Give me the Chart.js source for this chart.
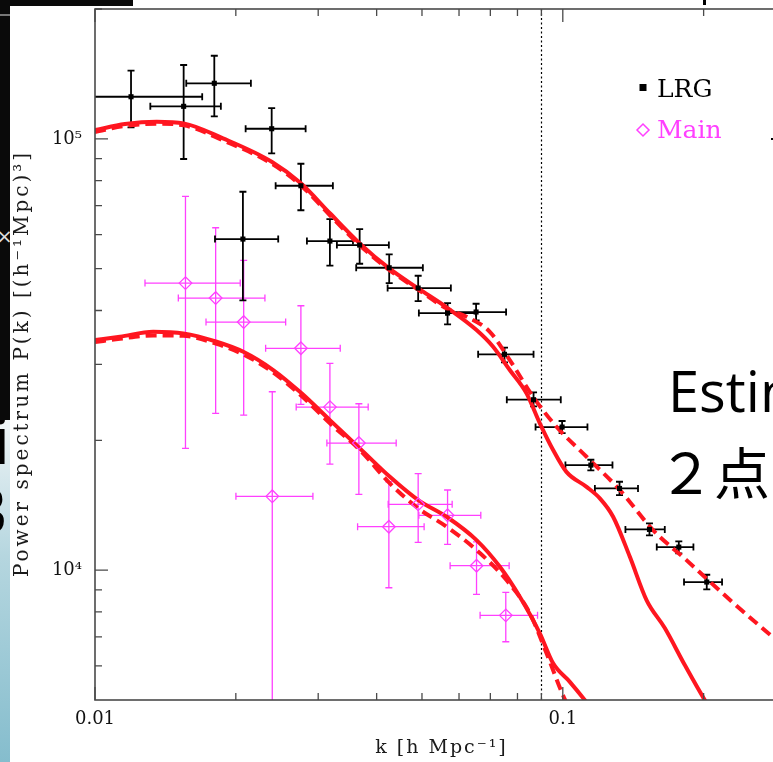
<!DOCTYPE html>
<html><head><meta charset="utf-8">
<script src="https://cdn.jsdelivr.net/npm/chart.js@4.4.1/dist/chart.umd.min.js"></script>
<style>
html,body{margin:0;padding:0;width:773px;height:762px;overflow:hidden;background:#fff;}
#wrap{position:relative;width:773px;height:762px;overflow:hidden;background:#fff;}
#c{position:absolute;left:0;top:0;width:820px;height:762px;}
.deco{position:absolute;}
</style></head><body>
<div id="wrap">
<canvas id="c" width="820" height="762"></canvas>
<div class="deco" style="left:0;top:0;width:133px;height:6px;background:#0a0a0a"></div>
<div class="deco" style="left:0;top:0;width:10px;height:420px;background:#0a0a0a"></div>
<div class="deco" style="left:0;top:14px;width:10px;height:2px;background:#777"></div>
<div class="deco" style="left:0;top:420px;width:10px;height:342px;background:linear-gradient(#eef4f6,#b5d6df 40%,#85bdcd)"></div>
<div class="deco" style="left:703px;top:0;width:3px;height:5px;background:#000"></div>
<div class="deco" style="left:0;top:228px;width:10px;height:24px;overflow:hidden"><span style="position:absolute;left:-4px;top:-4px;font:20px 'DejaVu Sans';color:#ddd">×</span></div>
<div class="deco" style="left:0;top:420px;width:11px;height:160px;overflow:hidden">
  <span style="position:absolute;left:-10px;top:-12px;font:bold 64px 'Open Sans';color:#000;line-height:64px">i</span>
  <span style="position:absolute;left:-34px;top:58px;font:64px 'Open Sans';color:#000;line-height:64px">B</span>
</div>
<div class="deco" style="left:668px;top:362px;font:56px 'Open Sans';line-height:56px;color:#000;white-space:nowrap">Estin</div>
<div class="deco" style="left:658px;top:442px;font:56px 'Noto Sans CJK JP';line-height:56px;color:#000;white-space:nowrap">２点</div>
</div>
<script>
// ---- data ----
const xTickValues = [0.01, 0.1];
const xTickLabels = ['0.01', '0.1'];
const yTickValues = [1e4, 1e5];
const yTickLabels = ['10\u2074', '10\u2075'];
const xMinorTicks = [0.02,0.03,0.04,0.05,0.06,0.07,0.08,0.09,0.2,0.3];
const yMinorTicks = [6000,7000,8000,9000,20000,30000,40000,50000,60000,70000,80000,90000,200000];

// LRG data points
const lrgK    = [0.01194,0.01547,0.01799,0.02386,0.02755,0.02071,0.03178,0.03679,0.04255,0.04907,0.05671,0.06526,0.07505,0.08659,0.09966,0.1148,0.1322,0.1532,0.1770,0.2031];
const lrgP    = [125200,118950,134520,105540,77840,58560,57940,56720,50250,45090,39460,39670,31650,24840,21470,17520,15470,12430,11310,9385];
const lrgKlo  = [0.0084,0.01313,0.01567,0.02099,0.02433,0.01805,0.02838,0.03289,0.03617,0.04222,0.04924,0.0563,0.06592,0.07591,0.08745,0.1013,0.1171,0.1361,0.1588,0.1816];
const lrgKhi  = [0.01695,0.01858,0.02154,0.02820,0.03225,0.02464,0.0356,0.04248,0.05022,0.05764,0.0653,0.07564,0.08659,0.09901,0.1129,0.1277,0.1448,0.1652,0.1902,0.2190];
const lrgPlo  = [106300,89790,112750,92550,68300,42220,50800,51340,46290,42060,37140,37950,30320,23980,20790,17030,14930,12040,10940,9025];
const lrgPhi  = [143900,148300,155820,117850,87540,75390,65160,61780,53980,48150,41620,41460,32800,25840,22170,18030,16030,12840,11660,9757];

// Main data points
const mainK   = [0.01561,0.01811,0.02079,0.02755,0.03178,0.03665,0.02393,0.04248,0.04907,0.05671,0.06540,0.07553];
const mainP   = [46290,42740,37600,32690,23880,19710,14830,12610,14210,13400,10240,7856];
const mainKlo = [0.01279,0.01507,0.01727,0.02316,0.02692,0.03131,0.02001,0.03642,0.04234,0.04924,0.05743,0.06656];
const mainKhi = [0.02044,0.02308,0.02556,0.03344,0.03837,0.04404,0.02923,0.05053,0.05801,0.06679,0.07679,0.08831];
const mainPlo = [19160,23100,22890,24240,17620,14990,3000,9104,11600,11480,8788,6823];
const mainPhi = [73570,62210,52280,41020,30160,24310,25920,16030,16740,15340,11630,8882];

// model curves
const lrgSolidK = [0.0100,0.01159,0.01355,0.01547,0.01877,0.02386,0.02755,0.03178,0.03679,0.04255,0.04907,0.05671,0.06540,0.07096,0.07703,0.08364,0.08931,0.09535,0.1018,0.1124,0.1200,0.1281,0.1391,0.1510,0.1652,0.1823,0.2011,0.22];
const lrgSolidP = [104800,108200,109560,108620,100280,88510,78880,67210,57240,50090,45000,40530,36030,32960,29110,25700,21900,18990,16900,15600,14670,13300,10740,8525,7340,6026,5000,4300];
const lrgDashK  = [0.0100,0.01159,0.01355,0.01547,0.01877,0.02386,0.02755,0.03178,0.03679,0.04255,0.04907,0.05671,0.06226,0.06982,0.07703,0.08642,0.09694,0.1124,0.1324,0.1559,0.1838,0.2238,0.2810,0.3];
const lrgDashP  = [103700,107100,108400,107500,99200,87600,78000,66500,56700,49700,44700,40300,38700,35700,30700,25230,21500,18320,15340,12390,10550,8675,6998,6600];
const mainSolidK = [0.0100,0.01131,0.01332,0.01544,0.0182,0.02075,0.02404,0.02765,0.03178,0.03684,0.04269,0.04907,0.05644,0.0654,0.07336,0.08092,0.08931,0.09535,0.1035,0.1114,0.12];
const mainSolidP = [34160,34770,35700,35400,33850,32080,29110,25700,22280,19160,16460,14540,13300,11740,10180,8675,7137,6081,5509,5000,4500];
const mainDashK  = [0.0100,0.01131,0.01332,0.01544,0.0182,0.02075,0.02404,0.02765,0.03178,0.03684,0.04269,0.04907,0.05644,0.0654,0.07578,0.08503,0.09231,0.1001,0.1050];
const mainDashP  = [33800,34400,35000,34930,33460,31640,28730,25330,21900,18990,15890,13910,12610,11130,9485,7940,6414,5130,4600];

const dividerK = 0.09;

// ---- styles ----
const RED = 'rgb(255,22,32)';
const MAG = 'rgb(255,64,255)';
const AXIS = '#4a4a4a';
const zip = (xs, ys) => xs.map((v, i) => ({x: v, y: ys[i]}));

const errPlugin = {
  id: 'errbars',
  beforeDatasetsDraw(chart) {
    const {ctx, chartArea: a, scales: {x, y}} = chart;
    ctx.save();
    ctx.beginPath(); ctx.rect(a.left, a.top, a.right - a.left, a.bottom - a.top); ctx.clip();
    const dx = Math.round(x.getPixelForValue(dividerK)) + 0.5;
    ctx.strokeStyle = '#000'; ctx.lineWidth = 1.2; ctx.setLineDash([2, 2.5]);
    ctx.beginPath(); ctx.moveTo(dx, a.top); ctx.lineTo(dx, a.bottom); ctx.stroke();
    ctx.setLineDash([]);
    const bars = (K, P, Klo, Khi, Plo, Phi, col, lw, cap) => {
      ctx.strokeStyle = col; ctx.lineWidth = lw;
      for (let i = 0; i < K.length; i++) {
        const px = x.getPixelForValue(K[i]), py = y.getPixelForValue(P[i]);
        const x0 = x.getPixelForValue(Klo[i]), x1 = x.getPixelForValue(Khi[i]);
        const y0 = y.getPixelForValue(Plo[i]), y1 = y.getPixelForValue(Phi[i]);
        ctx.beginPath();
        ctx.moveTo(x0, py); ctx.lineTo(x1, py);
        ctx.moveTo(x0, py - cap); ctx.lineTo(x0, py + cap);
        ctx.moveTo(x1, py - cap); ctx.lineTo(x1, py + cap);
        ctx.moveTo(px, y0); ctx.lineTo(px, y1);
        ctx.moveTo(px - cap, y0); ctx.lineTo(px + cap, y0);
        ctx.moveTo(px - cap, y1); ctx.lineTo(px + cap, y1);
        ctx.stroke();
      }
    };
    bars(mainK, mainP, mainKlo, mainKhi, mainPlo, mainPhi, MAG, 1.3, 3.5);
    bars(lrgK, lrgP, lrgKlo, lrgKhi, lrgPlo, lrgPhi, '#000', 1.8, 3.5);
    ctx.restore();
  },
  afterDraw(chart) {
    const {ctx, chartArea: a, scales: {x, y}} = chart;
    ctx.save();
    ctx.strokeStyle = AXIS; ctx.lineWidth = 1.6;
    ctx.strokeRect(a.left, a.top, a.right - a.left, a.bottom - a.top);
    ctx.lineWidth = 1.3;
    ctx.beginPath();
    const xt = (v, len) => { const p = x.getPixelForValue(v);
      ctx.moveTo(p, a.bottom); ctx.lineTo(p, a.bottom - len);
      ctx.moveTo(p, a.top); ctx.lineTo(p, a.top + len); };
    const yt = (v, len) => { const p = y.getPixelForValue(v);
      ctx.moveTo(a.left, p); ctx.lineTo(a.left + len, p);
      ctx.moveTo(a.right, p); ctx.lineTo(a.right - len, p); };
    xTickValues.forEach(v => xt(v, 13)); xMinorTicks.forEach(v => xt(v, 7));
    yTickValues.forEach(v => yt(v, 13)); yMinorTicks.forEach(v => yt(v, 7));
    ctx.stroke();
    ctx.fillStyle = '#1a1a1a';
    ctx.textAlign = 'center'; ctx.textBaseline = 'middle';
    ctx.font = '19px "DejaVu Serif"';
    ctx.letterSpacing = '2px';
    ctx.fillText('k [h Mpc\u207B\u00B9]', (a.left + a.right) / 2 + 1, 748);
    ctx.save();
    ctx.translate(23, (a.top + a.bottom) / 2 + 10);
    ctx.rotate(-Math.PI / 2);
    ctx.font = '20px "DejaVu Serif"';
    ctx.letterSpacing = '3px';
    ctx.fillText('Power spectrum P(k) [(h\u207B\u00B9Mpc)\u00B3]', 1, 0);
    ctx.restore();
    ctx.letterSpacing = '0px';
    ctx.fillStyle = '#000';
    ctx.fillRect(639.5, 84, 7, 7);
    ctx.font = '25px "DejaVu Serif"';
    ctx.textAlign = 'left'; ctx.textBaseline = 'alphabetic';
    ctx.fillText('LRG', 657, 97);
    ctx.strokeStyle = MAG; ctx.lineWidth = 1.5;
    ctx.beginPath();
    ctx.moveTo(643, 124); ctx.lineTo(649, 130); ctx.lineTo(643, 136); ctx.lineTo(637, 130); ctx.closePath();
    ctx.stroke();
    ctx.fillStyle = MAG;
    ctx.fillText('Main', 657, 138);
    ctx.fillStyle = '#000';
    ctx.fillRect(771, 138, 2, 2);
    ctx.restore();
  }
};

const curve = (k, p, dash, order) => ({
  type: 'scatter', data: zip(k, p), showLine: true, borderColor: RED, borderWidth: 4,
  borderDash: dash, pointRadius: 0, cubicInterpolationMode: 'monotone', fill: false, order: order
});

new Chart(document.getElementById('c'), {
  type: 'scatter',
  data: {
    datasets: [
      curve(lrgDashK, lrgDashP, [11, 6], 5),
      curve(lrgSolidK, lrgSolidP, [], 4),
      curve(mainDashK, mainDashP, [11, 6], 5),
      curve(mainSolidK, mainSolidP, [], 4),
      { label: 'LRG', data: zip(lrgK, lrgP), pointStyle: 'rect', pointRadius: 3.6,
        backgroundColor: '#000', borderColor: '#000', borderWidth: 0, order: 1 },
      { label: 'Main', data: zip(mainK, mainP), pointStyle: 'rectRot', pointRadius: 6.3,
        backgroundColor: 'rgba(0,0,0,0)', borderColor: MAG, borderWidth: 1.3, order: 1 }
    ]
  },
  options: {
    responsive: false, animation: false, devicePixelRatio: 1,
    layout: { padding: { left: 0, top: 9, right: 34, bottom: 0 }, autoPadding: false },
    plugins: { legend: { display: false }, tooltip: { enabled: false } },
    scales: {
      x: {
        type: 'logarithmic', min: 0.01, max: 0.3,
        grid: { display: false, drawTicks: false }, border: { display: false },
        afterBuildTicks: s => { s.ticks = xTickValues.map(v => ({ value: v })); },
        afterFit: s => { s.height = 62; s.paddingLeft = 0; s.paddingRight = 0; },
        ticks: { autoSkip: false, maxRotation: 0, padding: 9, color: '#111',
          font: { family: 'DejaVu Serif', size: 18 },
          callback: v => xTickLabels[xTickValues.indexOf(v)] }
      },
      y: {
        type: 'logarithmic', min: 5000, max: 200000,
        grid: { display: false, drawTicks: false }, border: { display: false },
        afterBuildTicks: s => { s.ticks = yTickValues.map(v => ({ value: v })); },
        afterFit: s => { s.width = 95; s.paddingTop = 0; s.paddingBottom = 0; },
        ticks: { autoSkip: false, padding: 13, color: '#111',
          font: { family: 'DejaVu Serif', size: 18 },
          callback: v => yTickLabels[yTickValues.indexOf(v)] }
      }
    }
  },
  plugins: [errPlugin]
});
</script>
</body></html>
